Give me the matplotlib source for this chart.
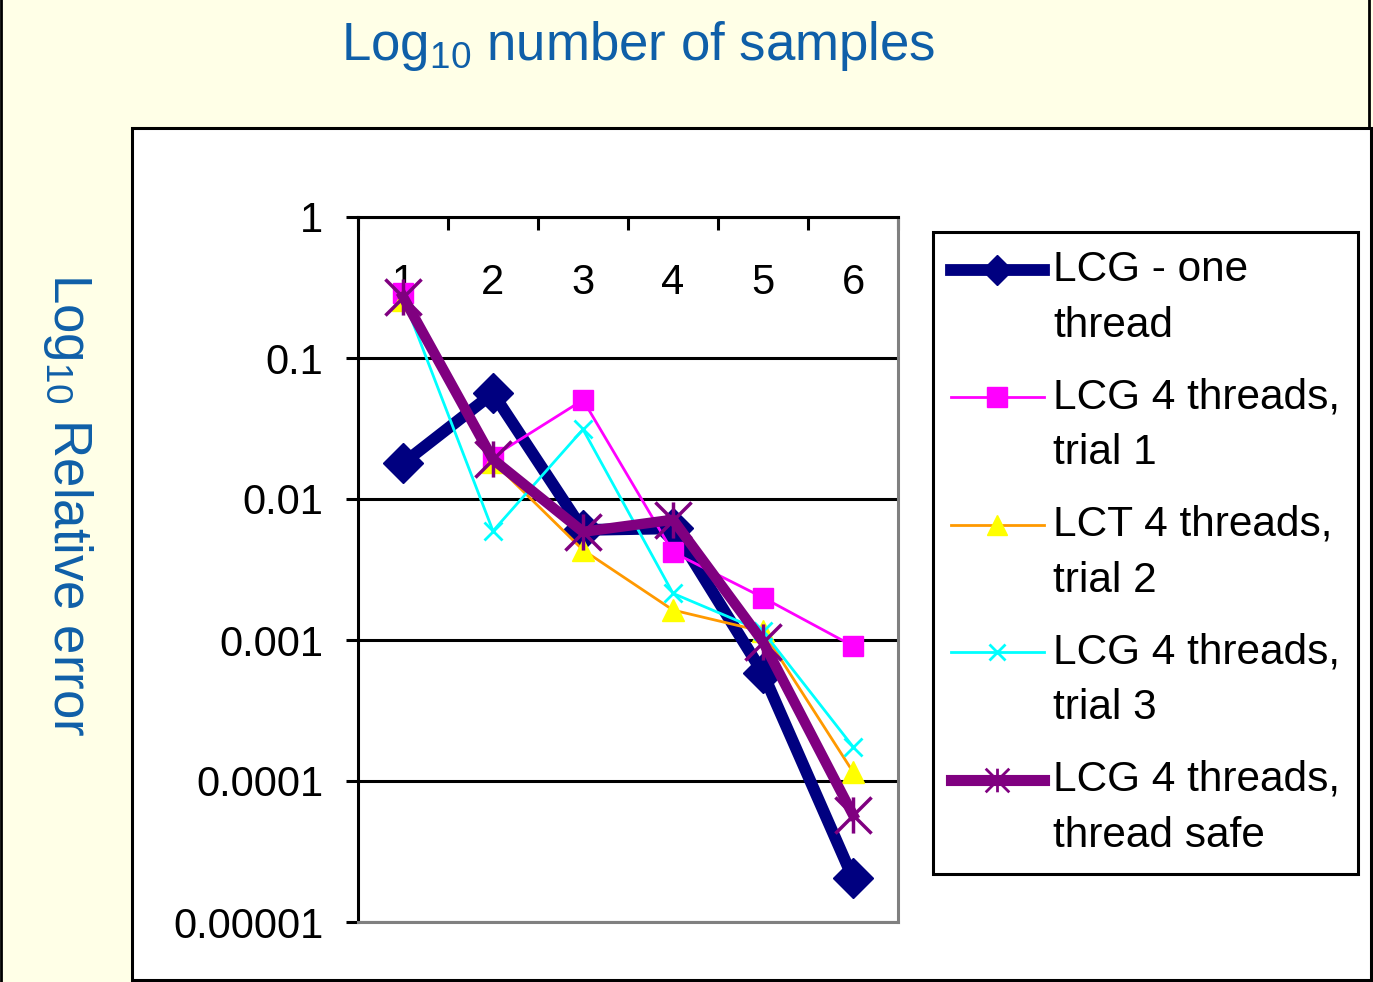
import numpy as np
import matplotlib
matplotlib.use('Agg')
import matplotlib.pyplot as plt
from matplotlib.lines import Line2D
from matplotlib.patches import Rectangle
from matplotlib.path import Path
from matplotlib.ticker import NullLocator
from matplotlib.legend_handler import HandlerLine2D

plt.rcParams['font.family'] = ['Liberation Sans', 'DejaVu Sans']
plt.rcParams['mathtext.fontset'] = 'custom'
plt.rcParams['mathtext.rm'] = 'Liberation Sans'
plt.rcParams['mathtext.it'] = 'Liberation Sans:italic'
plt.rcParams['mathtext.bf'] = 'Liberation Sans:bold'

# dados (erro relativo x log10 do numero de amostras)
amostras = [1, 2, 3, 4, 5, 6]
lcg_one = [0.0179, 0.0562, 0.00603, 0.0062, 0.000581, 2.04e-5]
lcg_t1 = [0.288, 0.0200, 0.0504, 0.00419, 0.00200, 0.000906]
lct_t2 = [0.258, 0.0184, 0.00435, 0.00163, 0.00115, 0.000116]
lcg_t3 = [0.27, 0.00593, 0.0312, 0.00214, 0.00115, 0.000175]
lcg_safe = [0.272, 0.0191, 0.00585, 0.00713, 0.00097, 5.76e-5]

nomes = ['LCG - one\nthread', 'LCG 4 threads,\ntrial 1', 'LCT 4 threads,\ntrial 2',
         'LCG 4 threads,\ntrial 3', 'LCG 4 threads,\nthread safe']
ytick_vals = [1, 0.1, 0.01, 0.001, 0.0001, 0.00001]
ytick_txt = ['1', '0.1', '0.01', '0.001', '0.0001', '0.00001']

azul = '#0F5FA8'
W, H = 1373, 982

# asterisco do excel: barra vertical + X
asterisco = Path([(0, -1), (0, 1), (-1, -1), (1, 1), (-1, 1), (1, -1)],
                 [Path.MOVETO, Path.LINETO, Path.MOVETO, Path.LINETO, Path.MOVETO, Path.LINETO])


class HandlerPrimeiraLinha(HandlerLine2D):
    # coloca o simbolo da legenda na altura da primeira linha do texto
    def create_artists(self, legend, orig_handle, xdescent, ydescent, width, height, fontsize, trans):
        arts = super().create_artists(legend, orig_handle, xdescent, ydescent, width, height, fontsize, trans)
        for a in arts:
            a.set_ydata(np.asarray(a.get_ydata()) + 0.68 * fontsize)
        return arts


fig = plt.figure(figsize=(W / 100, H / 100), dpi=100, facecolor='#FFFFE7')

# caixa branca e bordas
fig.add_artist(Rectangle((132 / W, 2 / H), (1371 - 132) / W, (980 - 128) / H, transform=fig.transFigure,
                         facecolor='white', edgecolor='black', lw=2.2, zorder=-5))
fig.add_artist(Line2D([1 / W, 1 / W], [0, 1], transform=fig.transFigure, color='black', lw=2))
fig.add_artist(Line2D([1368.5 / W, 1368.5 / W], [1 - 128 / H, 1], transform=fig.transFigure, color='black', lw=2))

ax = fig.add_axes([358 / W, 1 - 922 / H, 540 / W, 705 / H])
ax.set_facecolor('white')

ax.plot(amostras, lcg_one, color='#000080', lw=8.5, marker='D', ms=20, mfc='#000080', mec='#000080')
ax.plot(amostras, lcg_t1, color='#FF00FF', lw=2, marker='s', ms=14, mfc='#FF00FF', mec='#FF00FF')
ax.plot(amostras, lct_t2, color='#FF9900', lw=2, marker='^', ms=16, mfc='#FFFF00', mec='#FFFF00')
ax.plot(amostras, lcg_t3, color='#00FFFF', lw=2, marker='x', ms=13, mew=2, mec='#00FFFF')
ax.plot(amostras, lcg_safe, color='#800080', lw=7.5, marker=asterisco, ms=26, mew=2.5, mec='#800080')

ax.set_yscale('log')
ax.set_ylim(1e-5, 1)
ax.set_xlim(0.5, 6.5)
ax.set_yticks(ytick_vals, ytick_txt)
ax.yaxis.set_minor_locator(NullLocator())
ax.tick_params(axis='y', which='major', direction='out', length=9, width=2.2, pad=16, labelsize=30)
ax.yaxis.grid(True, color='black', lw=2.2)

ax.xaxis.set_ticks_position('top')
ax.set_xticks(amostras, [str(a) for a in amostras])
ax.set_xticks(np.arange(0.5, 7, 1), minor=True)
ax.tick_params(axis='x', which='major', length=0, pad=-62, labelsize=30,
               labeltop=True, labelbottom=False, top=True, bottom=False)
ax.tick_params(axis='x', which='minor', direction='in', length=9, width=2.2, top=True, bottom=False)

for lado in ['left', 'top']:
    ax.spines[lado].set_color('black')
    ax.spines[lado].set_linewidth(2.2)
for lado in ['right', 'bottom']:
    ax.spines[lado].set_color('#808080')
    ax.spines[lado].set_linewidth(2.2)

# textos
fig.text(638 / W, 1 - 60 / H, r'Log$_{\mathregular{10}}$ number of samples', fontsize=38, color=azul,
         ha='center', va='baseline')
fig.text(68 / W, 1 - 505 / H, r'Log$_{\mathregular{10}}$ Relative error', fontsize=38, color=azul,
         rotation=270, ha='center', va='center')

# legenda
handles = [
    Line2D([], [], color='#000080', lw=8.5, marker='D', ms=15, mfc='#000080', mec='#000080'),
    Line2D([], [], color='#FF00FF', lw=2, marker='s', ms=14, mfc='#FF00FF', mec='#FF00FF'),
    Line2D([], [], color='#FF9900', lw=2, marker='^', ms=15, mfc='#FFFF00', mec='#FFFF00'),
    Line2D([], [], color='#00FFFF', lw=2, marker='x', ms=12, mew=2, mec='#00FFFF'),
    Line2D([], [], color='#800080', lw=8, marker=asterisco, ms=17, mew=2, mec='#800080'),
]
leg = fig.legend(handles, nomes, loc='upper left', bbox_to_anchor=(933 / W, 1 - 232 / H),
                 bbox_transform=fig.transFigure, borderaxespad=0, fontsize=30.5, frameon=True,
                 fancybox=False, edgecolor='black', framealpha=1, handlelength=2.2,
                 handletextpad=0.22, labelspacing=0.74, borderpad=0.42,
                 handler_map={Line2D: HandlerPrimeiraLinha()})
leg.get_frame().set_linewidth(2.2)
for t in leg.get_texts():
    t.set_linespacing(1.52)

fig.savefig('out.png', dpi=100, facecolor=fig.get_facecolor())
